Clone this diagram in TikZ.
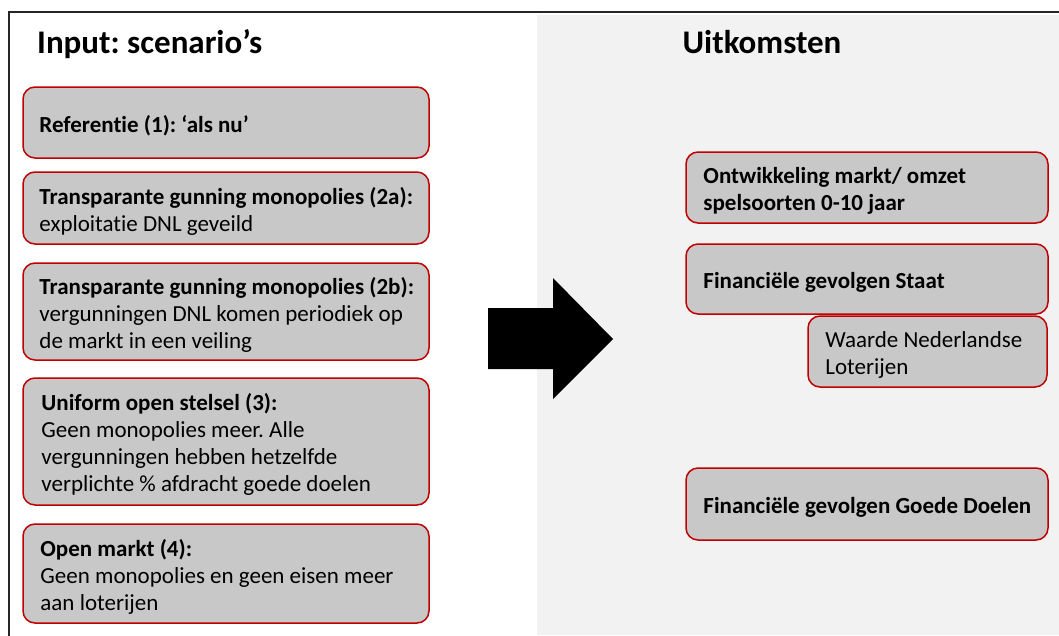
\documentclass[tikz,border=0pt]{standalone}
\usepackage{fontspec}
\setmainfont[Ligatures=NoCommon]{Carlito}
\frenchspacing
\definecolor{boxred}{HTML}{C00000}
\definecolor{boxgray}{HTML}{C8C8C8}
\definecolor{panelgray}{HTML}{F2F2F2}
\definecolor{framecol}{HTML}{262626}
\begin{document}
\begin{tikzpicture}[x=1pt,y=-1pt,
  box/.style={draw=boxred, fill=boxgray, line width=1.5pt, rounded corners=12pt, inner sep=0pt},
  txt/.style={anchor=west, inner sep=0pt, align=left, text=black, yshift=-3pt, font=\fontsize{23}{27}\selectfont},
  title/.style={inner sep=0pt, text=black, font=\fontsize{33}{39}\selectfont\bfseries},
  frame/.style={draw=framecol, line width=1.5pt}
]
\useasboundingbox (0,0) rectangle (1059,635);
\fill[panelgray] (537,15) rectangle (1059,635);
\draw[frame] (1065,12) -- (9,12) -- (9,640);
\fill[black] (488,308) -- (553,308) -- (553,278) -- (613,339) -- (553,399) -- (553,369) -- (488,369) -- cycle;

\node[title, anchor=base west] (tin) at (37,53) {Input: scenario’s};
\node[title, anchor=base] (tout) at (762,53) {Uitkomsten};

% left boxes
\node[box, minimum width=406pt, minimum height=71pt] (b1) at (226,122.5) {};
\node[txt] (t1) at ([xshift=17pt]b1.west) {\bfseries Referentie (1): ‘als nu’};
\node[box, minimum width=406pt, minimum height=72pt] (b2) at (226,208) {};
\node[txt] (t2) at ([xshift=17pt]b2.west) {\textbf{Transparante gunning monopolies (2a):}\\exploitatie DNL geveild};
\node[box, minimum width=406pt, minimum height=97pt] (b3) at (226,311.5) {};
\node[txt] (t3) at ([xshift=17pt]b3.west) {\textbf{Transparante gunning monopolies (2b):}\\vergunningen DNL komen periodiek op\\de markt in een veiling};
\node[box, minimum width=406pt, minimum height=127pt] (b4) at (226,441.5) {};
\node[txt] (t4) at ([xshift=19pt]b4.west) {\textbf{Uniform open stelsel (3):}\\Geen monopolies meer. Alle\\vergunningen hebben hetzelfde\\verplichte \% afdracht goede doelen};
\node[box, minimum width=406pt, minimum height=99pt] (b5) at (226,573.5) {};
\node[txt] (t5) at ([xshift=18pt]b5.west) {\textbf{Open markt (4):}\\Geen monopolies en geen eisen meer\\aan loterijen};

% right boxes
\node[box, minimum width=362pt, minimum height=71pt] (r1) at (867,187.5) {};
\node[txt] (u1) at ([xshift=18pt]r1.west) {\bfseries Ontwikkeling markt/ omzet\\\bfseries spelsoorten 0-10 jaar};
\node[box, minimum width=362pt, minimum height=70pt] (r2) at (867,279) {};
\node[txt] (u2) at ([xshift=18pt]r2.west) {\bfseries Financiële gevolgen Staat};
\node[box, minimum width=239pt, minimum height=71pt] (r3) at (927.5,351.5) {};
\node[txt] (u3) at ([xshift=18pt]r3.west) {Waarde Nederlandse\\Loterijen};
\node[box, minimum width=362pt, minimum height=72pt] (r4) at (867,504) {};
\node[txt] (u4) at ([xshift=18pt]r4.west) {\bfseries Financiële gevolgen Goede Doelen};
\end{tikzpicture}
\end{document}
